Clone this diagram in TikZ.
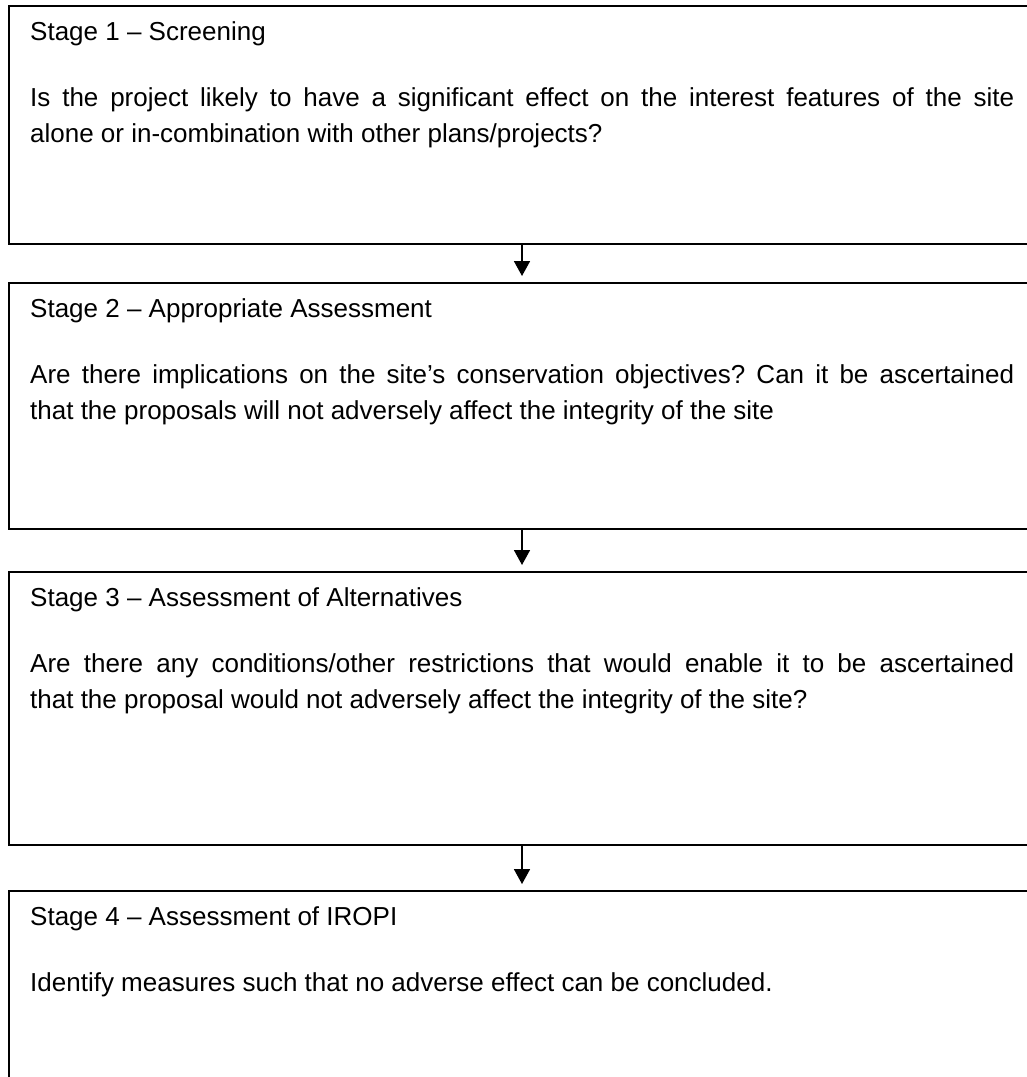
\documentclass[tikz,border=0pt]{standalone}
\usepackage{fontspec}
\setmainfont{Liberation Sans}
\usetikzlibrary{calc,arrows.meta}
\frenchspacing
\newcommand{\stagefont}{\fontsize{26}{36}\selectfont}
\tikzset{
  stagebox/.style={draw, line width=1.8pt, anchor=north west, minimum width=1040pt, inner sep=0pt},
  stagetitle/.style={anchor=base west, inner sep=0pt, font=\stagefont},
  stagetext/.style={anchor=north west, inner sep=0pt, text width=984pt, align=justify, font=\stagefont},
  flow/.style={-{Triangle[width=16pt,length=15pt]}, line width=1.8pt, shorten >=6pt}
}

\begin{document}
\begin{tikzpicture}[x=1pt, y=-1pt]
		%%%%% START %%%%%
		\useasboundingbox (0, 0) rectangle (1027, 1077);
		\clip (0, 0) rectangle (1027, 1077);
		
		\node[stagebox, minimum height=238pt] (s1) at (8, 5) {};
		\node[stagebox, minimum height=246pt] (s2) at (8, 282) {};
		\node[stagebox, minimum height=273pt] (s3) at (8, 571) {};
		\node[stagebox, minimum height=250pt] (s4) at (8, 890) {};
		
		\node[stagetitle] (t1) at ($(s1.north west)+(22, 35)$) {Stage 1 – Screening};
		\node[stagetext] (p1) at ($(s1.north west)+(22, 75.8)$) {\strut Is the project likely to have a significant effect on the interest features of the site\linebreak alone or in-combination with other plans/projects?};
		
		\node[stagetitle] (t2) at ($(s2.north west)+(22, 35)$) {Stage 2 – Appropriate Assessment};
		\node[stagetext] (p2) at ($(s2.north west)+(22, 75.8)$) {\strut Are there implications on the site’s conservation objectives? Can it be ascertained\linebreak that the proposals will not adversely affect the integrity of the site};
		
		\node[stagetitle] (t3) at ($(s3.north west)+(22, 35)$) {Stage 3 – Assessment of Alternatives};
		\node[stagetext] (p3) at ($(s3.north west)+(22, 75.8)$) {\strut Are there any conditions/other restrictions that would enable it to be ascertained\linebreak that the proposal would not adversely affect the integrity of the site?};
		
		\node[stagetitle] (t4) at ($(s4.north west)+(22, 35)$) {Stage 4 – Assessment of IROPI};
		\node[stagetext] (p4) at ($(s4.north west)+(22, 75.8)$) {\strut Identify measures such that no adverse effect can be concluded.};
		
		\coordinate (ax) at (522, 0);
		\draw[flow] (s1.south -| ax) -- (s2.north -| ax);
		\draw[flow] (s2.south -| ax) -- (s3.north -| ax);
		\draw[flow] (s3.south -| ax) -- (s4.north -| ax);
		%%%%% END %%%%%
\end{tikzpicture}
\end{document}
